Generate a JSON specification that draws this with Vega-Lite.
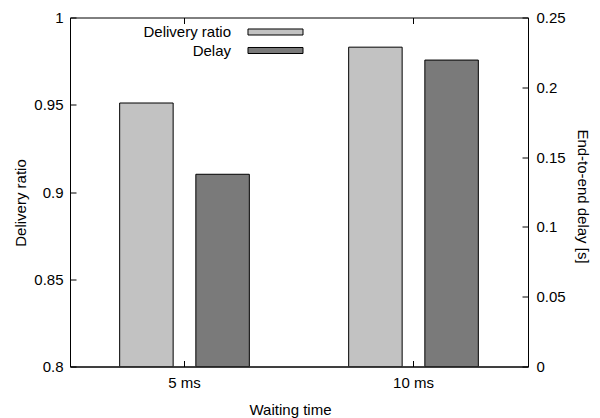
{
  "$schema": "https://vega.github.io/schema/vega-lite/v6.json",
  "width": 458,
  "height": 349,
  "autosize": "none",
  "padding": {"left": 70, "top": 17.5, "right": 72, "bottom": 51.5},
  "background": "white",
  "config": {
    "font": "Liberation Sans",
    "view": {"stroke": "black", "strokeWidth": 1},
    "axis": {
      "domainColor": "black",
      "tickColor": "black",
      "labelColor": "black",
      "titleColor": "black",
      "labelFontSize": 15,
      "titleFontSize": 15,
      "titleFontWeight": "normal",
      "grid": false,
      "tickSize": -6,
      "labelFlush": false,
      "labelOverlap": false
    }
  },
  "data": {
    "values": [
      {"time": "5 ms", "series": "Delivery ratio", "value": 0.951},
      {"time": "5 ms", "series": "Delay", "value": 0.1377},
      {"time": "10 ms", "series": "Delivery ratio", "value": 0.983},
      {"time": "10 ms", "series": "Delay", "value": 0.2195}
    ]
  },
  "encoding": {
    "xOffset": {
      "field": "series",
      "type": "nominal",
      "scale": {"domain": ["Delivery ratio", "Delay"], "paddingInner": 0.298, "paddingOuter": 0.652}
    },
    "fill": {
      "field": "series",
      "type": "nominal",
      "scale": {"domain": ["Delivery ratio", "Delay"], "range": ["#c2c2c2", "#7a7a7a"]},
      "legend": {
        "orient": "none",
        "legendX": 198,
        "legendY": 7,
        "title": null,
        "padding": 0,
        "symbolType": "M-3.93,-0.43H3.93V0.43H-3.93Z",
        "symbolSize": 196,
        "symbolStrokeColor": "black",
        "symbolStrokeWidth": 1,
        "symbolOpacity": 1,
        "labelAlign": "right",
        "labelOffset": -52,
        "labelFontSize": 15,
        "labelColor": "black",
        "rowPadding": 2.5
      }
    }
  },
  "layer": [
    {
      "transform": [{"filter": "datum.series === 'Delivery ratio'"}],
      "mark": {"type": "bar", "stroke": "black", "strokeWidth": 1, "clip": true},
      "encoding": {
        "x": {
          "field": "time",
          "type": "nominal",
          "sort": ["5 ms", "10 ms"],
          "scale": {"paddingInner": 0, "paddingOuter": 0},
          "axis": {
            "orient": "bottom",
            "title": "Waiting time",
            "labelAngle": 0,
            "labelPadding": 15,
            "titleX": 220,
            "titleY": 42.5,
            "titleBaseline": "middle"
          }
        },
        "y": {
          "field": "value",
          "type": "quantitative",
          "scale": {"domain": [0.8, 1], "zero": false, "nice": false},
          "axis": {
            "orient": "left",
            "title": "Delivery ratio",
            "values": [0.8, 0.85, 0.9, 0.95, 1],
            "format": "~g",
            "labelPadding": 13,
            "titleX": -50,
            "titleY": 185,
            "titleAngle": -90,
            "titleBaseline": "middle"
          }
        },
        "y2": {"datum": 0.8}
      }
    },
    {
      "transform": [{"filter": "datum.series === 'Delay'"}],
      "mark": {"type": "bar", "stroke": "black", "strokeWidth": 1, "clip": true},
      "encoding": {
        "x": {
          "field": "time",
          "type": "nominal",
          "sort": ["5 ms", "10 ms"],
          "scale": {"paddingInner": 0, "paddingOuter": 0},
          "axis": {"orient": "top", "labels": false, "title": null, "domain": false}
        },
        "y": {
          "field": "value",
          "type": "quantitative",
          "scale": {"domain": [0, 0.25], "nice": false},
          "axis": {
            "orient": "right",
            "title": "End-to-end delay [s]",
            "values": [0, 0.05, 0.1, 0.15, 0.2, 0.25],
            "format": "~g",
            "labelPadding": 14,
            "titleX": 54,
            "titleY": 178.5,
            "titleAngle": 90,
            "titleBaseline": "middle"
          }
        }
      }
    }
  ],
  "resolve": {"scale": {"y": "independent"}, "axis": {"x": "independent"}}
}
